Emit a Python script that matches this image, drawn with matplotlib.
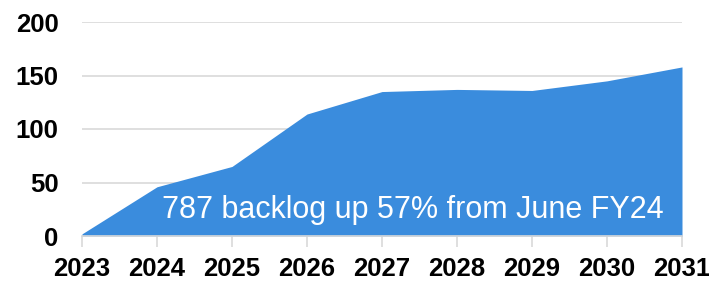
import matplotlib.pyplot as plt

years = [2023, 2024, 2025, 2026, 2027, 2028, 2029, 2030, 2031]
backlog = [2, 46, 65, 114, 135, 137, 136, 145, 158]
yticks = [0, 50, 100, 150, 200]
note = "787 backlog up 57% from June FY24"

plt.rcParams["font.family"] = ["Liberation Sans", "DejaVu Sans"]

fig = plt.figure(figsize=(7.09, 2.82), dpi=100)
ax = fig.add_axes([82 / 709, 46 / 282, 600 / 709, 214 / 282])

ax.fill_between(years, backlog, 0, color="#3A8CDD", linewidth=0, zorder=2)

ax.set_xlim(years[0], years[-1])
ax.set_ylim(0, 200)
ax.set_xticks(years)
ax.set_xticklabels([str(y) for y in years], fontsize=18.5, fontweight="bold")
ax.set_yticks(yticks)
ax.set_yticklabels([str(v) for v in yticks], fontsize=18.5, fontweight="bold")

ax.grid(axis="y", color="#d9d9d9", linewidth=1.2, zorder=0)
for s in ["left", "right", "top"]:
    ax.spines[s].set_visible(False)
ax.spines["bottom"].set_color("#d9d9d9")
ax.spines["bottom"].set_linewidth(1.2)
ax.tick_params(axis="x", length=8, color="#d9d9d9", width=1.2, pad=7)
ax.tick_params(axis="y", length=0, pad=17)

ax.text(2031 - 0.25, 24, note, color="white", fontsize=22, ha="right", va="center", zorder=3)

fig.savefig("out.png", dpi=100)
